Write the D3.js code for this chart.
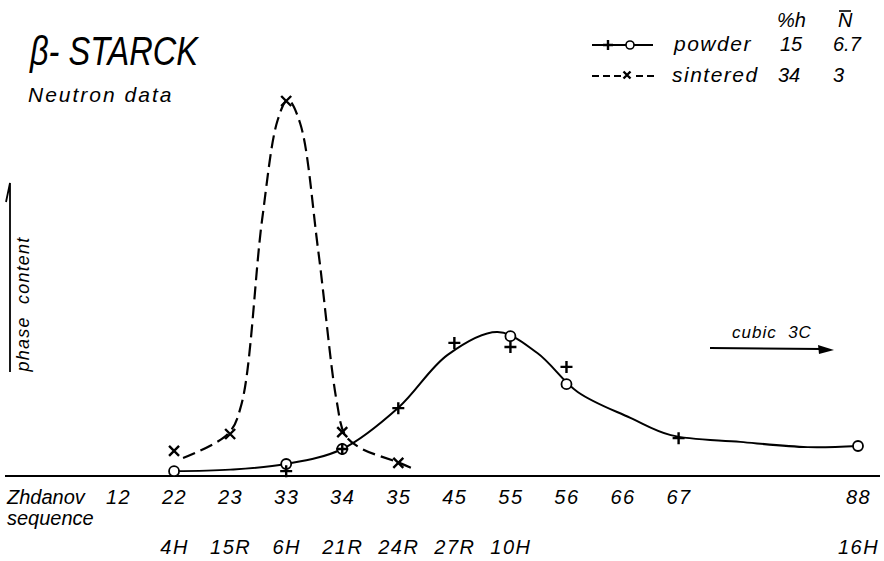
<!DOCTYPE html>
<html>
<head>
<meta charset="utf-8">
<title>beta-Starck neutron data</title>
<script src="https://d3js.org/d3.v7.min.js"></script>
<style>
    body { margin: 0; background: #fff; }
    text { font-family: "Liberation Sans", "DejaVu Sans", sans-serif; font-style: italic; fill: #000; white-space: pre; }
</style>
</head>
<body>
<svg width="884" height="561"></svg>
<script>
    // Zhdanov sequences along the bottom
    const zhdanov = ["12", "22", "23", "33", "34", "35", "45", "55", "56", "66", "67", "88"]
    // place of each sequence on the axis (the jump up to 88 is wider)
    const zhdanovPos = [0, 1, 2, 3, 4, 5, 6, 7, 8, 9, 10, 13.2]
    // polytype written under a sequence
    const polyCat = ["22", "23", "33", "34", "35", "45", "55", "88"]
    const polyName = ["4H", "15R", "6H", "21R", "24R", "27R", "10H", "16H"]

    // measured phase content, arbitrary units (sintered peak = 100)
    const powderPlus = [["33", 1.3], ["34", 7.2], ["35", 18.1], ["45", 35.5], ["55", 34.4], ["56", 29.1], ["67", 10.1]]
    const powderCircle = [["22", 1.3], ["33", 3.2], ["34", 7.2], ["55", 37.3], ["56", 24.5], ["88", 8.0]]
    const sinteredX = [["22", 6.7], ["23", 11.2], ["33", 100], ["34", 11.7], ["35", 3.5]]

    // hand drawn curves: [axis position, content]
    const powderLine = [[1, 1.3], [2, 1.7], [3, 3.2], [4, 7.2], [5, 18.2], [5.88, 32.3], [6.77, 38.4],
        [7.48, 32.8], [8.2, 22.4], [9.14, 15.5], [9.86, 10.9], [11.1, 9.1], [12.3, 7.7], [13.2, 8.0]]
    const sinteredLine = [[1.16, 4.8], [1.96, 11.2], [2.2, 19], [2.57, 68.3], [2.85, 95], [3.03, 100.3],
        [3.25, 94], [3.57, 60.3], [3.9, 20], [4.05, 11], [4.32, 7.5], [5.02, 3.5], [5.27, 1.9]]

    const svg = d3.select("svg")
    const baseY = 476

    const x = d3.scaleLinear().domain([0, 13.2]).range([118, 858])
    const y = d3.scaleLinear().domain([0, 100]).range([baseY, 101])
    const cx = c => x(zhdanovPos[zhdanov.indexOf(c)])

    // title block
    svg.append("text").attr("x", 30).attr("y", 65)
        .style("font-size", "40px")
        .attr("textLength", 168).attr("lengthAdjust", "spacingAndGlyphs")
        .text("β- STARCK")
    svg.append("text").attr("x", 28).attr("y", 102)
        .style("font-size", "21px").style("letter-spacing", "2px")
        .text("Neutron data")

    // baseline
    svg.append("line")
        .attr("x1", 5).attr("x2", 880).attr("y1", baseY).attr("y2", baseY)
        .attr("stroke", "#000").attr("stroke-width", 2)

    // x axis: sequences and polytypes
    const xAxis = d3.axisBottom(x).tickValues(zhdanovPos).tickSize(0).tickPadding(14)
        .tickFormat((d, i) => zhdanov[i])
    const gx = svg.append("g").attr("transform", `translate(0,${baseY})`).call(xAxis)
    const polyAxis = d3.axisBottom(x).tickValues(polyCat.map(c => zhdanovPos[zhdanov.indexOf(c)]))
        .tickSize(0).tickPadding(64).tickFormat((d, i) => polyName[i])
    const gp = svg.append("g").attr("transform", `translate(0,${baseY})`).call(polyAxis)
    gx.select(".domain").remove()
    gp.select(".domain").remove()
    svg.selectAll(".tick text").attr("font-family", null).attr("font-size", null)
        .style("font-size", "20px").style("letter-spacing", "1.5px")

    svg.append("text").attr("x", 7).attr("y", 504).style("font-size", "20px").text("Zhdanov")
    svg.append("text").attr("x", 7).attr("y", 525).style("font-size", "20px").text("sequence")

    // y axis arrow
    svg.append("path")
        .attr("d", "M10,372 L10,183 L6,202")
        .attr("fill", "none").attr("stroke", "#000").attr("stroke-width", 1.8)
    svg.append("text")
        .attr("transform", "translate(29,304) rotate(-90)")
        .attr("text-anchor", "middle")
        .style("font-size", "18px").style("letter-spacing", "1.2px")
        .text("phase  content")

    // curves
    const line = d3.line().x(d => x(d[0])).y(d => y(d[1])).curve(d3.curveCatmullRom.alpha(0.5))
    svg.append("path").datum(sinteredLine).attr("d", line)
        .attr("fill", "none").attr("stroke", "#000").attr("stroke-width", 2.2)
        .attr("stroke-dasharray", "13,6")
    svg.append("path").datum(powderLine).attr("d", line)
        .attr("fill", "none").attr("stroke", "#000").attr("stroke-width", 2)

    // markers
    const plus = (g, s) => g.append("path")
        .attr("d", `M${-s},0 H${s} M0,${-s} V${s}`)
        .attr("stroke", "#000").attr("stroke-width", 2.4)
    const cross = (g, s) => g.append("path")
        .attr("d", `M${-s},${-s} L${s},${s} M${s},${-s} L${-s},${s}`)
        .attr("stroke", "#000").attr("stroke-width", 2.4)

    svg.selectAll(".pc").data(powderCircle).join("circle")
        .attr("cx", d => cx(d[0])).attr("cy", d => y(d[1])).attr("r", 5)
        .attr("fill", "#fff").attr("stroke", "#000").attr("stroke-width", 1.8)
    svg.selectAll(".pp").data(powderPlus).join("g")
        .attr("transform", d => `translate(${cx(d[0])},${y(d[1])})`)
        .each(function () { plus(d3.select(this), 6) })
    svg.selectAll(".sx").data(sinteredX).join("g")
        .attr("transform", d => `translate(${cx(d[0])},${y(d[1])})`)
        .each(function () { cross(d3.select(this), 5) })

    // cubic 3C arrow
    svg.append("line").attr("x1", 710).attr("x2", 822).attr("y1", 348).attr("y2", 349)
        .attr("stroke", "#000").attr("stroke-width", 2)
    svg.append("path").attr("d", "M834,350 L818,345 L819,354 Z").attr("fill", "#000")
    svg.append("text").attr("x", 732).attr("y", 338)
        .style("font-size", "17px").style("letter-spacing", "1px").text("cubic  3C")

    // legend
    const lg = svg.append("g")
    lg.append("text").attr("x", 777).attr("y", 27).style("font-size", "20px").text("%h")
    lg.append("text").attr("x", 838).attr("y", 27).style("font-size", "20px").text("N")
    lg.append("line").attr("x1", 839).attr("x2", 851).attr("y1", 11).attr("y2", 11)
        .attr("stroke", "#000").attr("stroke-width", 1.6)

    lg.append("line").attr("x1", 592).attr("x2", 653).attr("y1", 45).attr("y2", 45)
        .attr("stroke", "#000").attr("stroke-width", 1.8)
    plus(lg.append("g").attr("transform", "translate(608,45)"), 5)
    lg.append("circle").attr("cx", 630).attr("cy", 45).attr("r", 4)
        .attr("fill", "#fff").attr("stroke", "#000").attr("stroke-width", 1.6)
    lg.append("text").attr("x", 674).attr("y", 51).style("font-size", "21px").style("letter-spacing", "1.5px").text("powder")
    lg.append("text").attr("x", 780).attr("y", 51).style("font-size", "20px").text("15")
    lg.append("text").attr("x", 833).attr("y", 51).style("font-size", "20px").text("6.7")

    lg.append("line").attr("x1", 592).attr("x2", 655).attr("y1", 76).attr("y2", 76)
        .attr("stroke", "#000").attr("stroke-width", 1.8).attr("stroke-dasharray", "7,4")
    lg.append("rect").attr("x", 621).attr("y", 70).attr("width", 12).attr("height", 12).attr("fill", "#fff")
    cross(lg.append("g").attr("transform", "translate(627,75)"), 3.5)
    lg.append("text").attr("x", 672).attr("y", 82).style("font-size", "21px").style("letter-spacing", "1.5px").text("sintered")
    lg.append("text").attr("x", 778).attr("y", 82).style("font-size", "20px").text("34")
    lg.append("text").attr("x", 833).attr("y", 82).style("font-size", "20px").text("3")
</script>
</body>
</html>
